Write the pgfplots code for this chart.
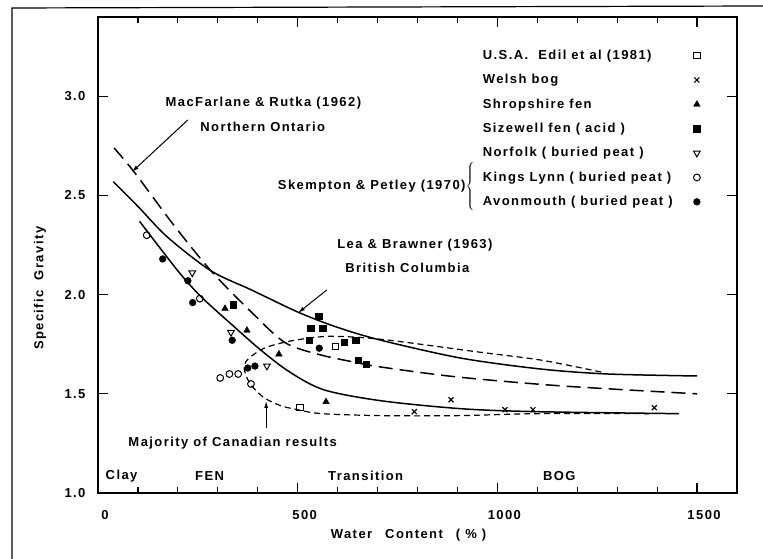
\documentclass[border=0pt]{standalone}
\usepackage{fontspec}
\setmainfont{Liberation Sans}[LetterSpace=11]
\usepackage{pgfplots}
\pgfplotsset{compat=1.18}
\usetikzlibrary{arrows.meta}
\begin{document}
\fontsize{13}{15}\selectfont\bfseries
\begin{tikzpicture}
\path[use as bounding box] (-98pt,-66pt) rectangle (665pt,493pt);
\draw[line width=1.2pt] (-86pt,-66pt) -- (-86pt,485pt) -- (665pt,487pt);
\begin{axis}[
  at={(0pt,0pt)}, anchor=south west,
  scale only axis, width=639pt, height=476pt,
  xmin=0, xmax=1600, ymin=1, ymax=3.4,
  xtick={0,500,1000,1500}, minor x tick num=4,
  ytick={1,1.5,2,2.5,3},
  yticklabel style={/pgf/number format/fixed, /pgf/number format/fixed zerofill, /pgf/number format/precision=1, xshift=-8pt},
  xticklabel style={/pgf/number format/set thousands separator={}, xshift=7pt, yshift=-13pt},
  /pgf/number format/assume math mode=true,
  tick align=inside,
  major tick length=10pt, minor tick length=6pt,
  axis line style={line width=2pt},
  every tick/.style={line width=1.2pt, black},
  xlabel={Water\quad Content\quad( \% )},
  ylabel={Specific\ \ Gravity},
  xlabel style={at={(axis description cs:0.486,0)}, anchor=center, yshift=-42pt},
  ylabel style={at={(axis description cs:-0.0908,0.43)}, anchor=center},
  legend plot pos=right,
  legend cell align=left,
  legend style={at={(axis cs:958,3.245)}, anchor=north west, draw=none, fill=none, row sep=9pt, inner sep=0pt},
  legend image code/.code={\path[draw=none, fill=none] (0cm,0cm) -- (0.9cm,0cm); \draw[#1] plot coordinates {(0.78cm,0cm)};},
  clip=false,
]
% curves
\addplot[forget plot, smooth, line width=1.5pt] coordinates {
 (38,2.57) (100,2.445) (174,2.29) (283,2.12) (383,2.025) (503,1.91) (600,1.835) (709,1.77) (909,1.68) (1109,1.625) (1277,1.60) (1500,1.59)};
\addplot[forget plot, smooth, line width=1.5pt, dash pattern=on 14pt off 7pt] coordinates {
 (40,2.74) (90,2.62) (190,2.35) (283,2.12) (380,1.92) (467,1.76) (550,1.70) (641,1.66) (709,1.635) (900,1.585) (1160,1.54) (1500,1.50)};
\addplot[forget plot, smooth, line width=1.5pt] coordinates {
 (104,2.37) (200,2.12) (258,1.99) (340,1.84) (408,1.72) (480,1.61) (566,1.52) (709,1.465) (909,1.425) (1100,1.41) (1455,1.40)};
\addplot[forget plot, smooth, line width=1.2pt, dash pattern=on 6pt off 4pt] coordinates {
 (1260,1.61) (1109,1.67) (956,1.71) (709,1.775) (588,1.79) (525,1.78) (467,1.76) (416,1.73) (378,1.68) (366,1.64) (371,1.59) (385,1.54) (416,1.48) (458,1.44) (500,1.42) (560,1.40) (709,1.39) (900,1.39) (1100,1.40) (1380,1.40)};
% data
\addplot[only marks, mark=square, mark size=3.2pt, mark options={fill=white, line width=1pt}] coordinates {(506,1.43) (594,1.74)};
\addlegendentry{U.S.A.\ \ Edil et al (1981)}
\addplot[only marks, mark=x, mark size=3.5pt, mark options={line width=1.2pt}] coordinates {(792,1.41) (884,1.47) (1019,1.42) (1089,1.42) (1393,1.43)};
\addlegendentry{Welsh bog}
\addplot[only marks, mark=triangle*, mark size=3.8pt, mark options={fill=black}] coordinates {(318,1.93) (373,1.82) (453,1.70) (571,1.46)};
\addlegendentry{Shropshire fen}
\addplot[only marks, mark=square*, mark size=3.2pt, mark options={fill=black}] coordinates {(338,1.95) (529,1.77) (533,1.83) (553,1.89) (563,1.83) (617,1.76) (645,1.77) (651,1.67) (671,1.65)};
\addlegendentry{Sizewell fen ( acid )}
\addplot[only marks, mark=triangle, mark size=3.8pt, mark options={rotate=180, fill=white, line width=1pt}] coordinates {(236,2.11) (333,1.81) (423,1.64)};
\addlegendentry{Norfolk ( buried peat )}
\addplot[only marks, mark=o, mark size=3.4pt, mark options={fill=white, line width=1pt}] coordinates {(122,2.30) (255,1.98) (306,1.58) (329,1.60) (351,1.60) (383,1.55)};
\addlegendentry{Kings Lynn ( buried peat )}
\addplot[only marks, mark=*, mark size=3.4pt, mark options={fill=black}] coordinates {(162,2.18) (225,2.07) (237,1.96) (336,1.77) (375,1.63) (393,1.64) (554,1.73)};
\addlegendentry{Avonmouth ( buried peat )}
% annotations
\node[anchor=west] at (axis cs:158,2.967) {MacFarlane \& Rutka (1962)};
\node[anchor=west] at (axis cs:245,2.846) {Northern Ontario};
\draw[line width=1pt, -{Latex[length=7pt,width=4pt]}] (axis cs:225,2.881) -- (axis cs:85,2.619);
\node[anchor=east, inner sep=0pt] at (axis cs:946,2.538) {Skempton \& Petley (1970)$\left\{\vrule height 23pt depth 23pt width 0pt\right.$};
\node[anchor=west] at (axis cs:588,2.251) {Lea \& Brawner (1963)};
\node[anchor=west] at (axis cs:608,2.135) {British Columbia};
\draw[line width=1pt, -{Latex[length=7pt,width=4pt]}] (axis cs:573,2.024) -- (axis cs:501,1.908);
\node[anchor=west] at (axis cs:65,1.252) {Majority of Canadian results};
\draw[line width=1pt, -{Latex[length=7pt,width=4pt]}] (axis cs:421,1.328) -- (axis cs:421,1.464);
\node[anchor=west] at (axis cs:8,1.086) {Clay};
\node[anchor=west] at (axis cs:232,1.086) {FEN};
\node[anchor=west] at (axis cs:565,1.086) {Transition};
\node[anchor=west] at (axis cs:1103,1.086) {BOG};
\end{axis}
\end{tikzpicture}
\end{document}
